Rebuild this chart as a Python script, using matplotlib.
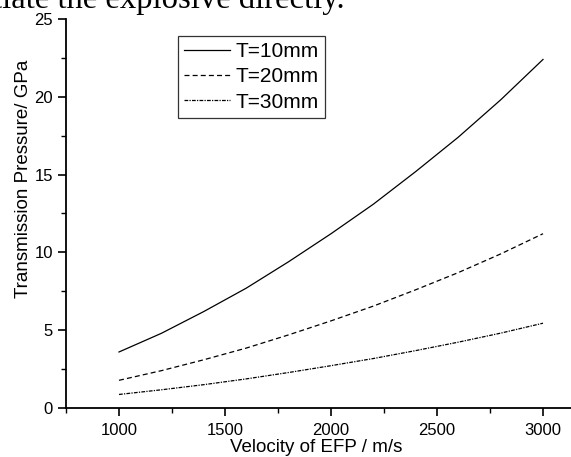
import matplotlib
matplotlib.use("Agg")
import matplotlib.pyplot as plt
from matplotlib.ticker import MultipleLocator

velocity = [1000, 1200, 1400, 1600, 1800, 2000, 2200, 2400, 2600, 2800, 3000]
p_10mm = [3.6, 4.8, 6.2, 7.7, 9.4, 11.2, 13.1, 15.2, 17.4, 19.8, 22.4]
p_20mm = [1.78, 2.4, 3.1, 3.85, 4.7, 5.6, 6.55, 7.6, 8.7, 9.9, 11.2]
p_30mm = [0.87, 1.17, 1.5, 1.87, 2.28, 2.72, 3.18, 3.69, 4.23, 4.81, 5.45]
labels = ["T=10mm", "T=20mm", "T=30mm"]

plt.rcParams['font.family'] = ['Liberation Sans', 'DejaVu Sans']

fig = plt.figure(figsize=(5.71, 4.57), dpi=100)
ax = fig.add_axes([66/571, 1 - 408/457, 530/571, (408 - 19)/457])

ax.plot(velocity, p_10mm, color='black', lw=0.9, ls='-', label=labels[0])
ax.plot(velocity, p_20mm, color='black', lw=0.9, ls=(0, (4, 2.5)), label=labels[1])
ax.plot(velocity, p_30mm, color='black', lw=0.9, ls=(0, (3, 1, 1, 1)), label=labels[2])

ax.set_xlim(750, 3250)
ax.set_ylim(0, 25)
ax.xaxis.set_major_locator(MultipleLocator(500))
ax.xaxis.set_minor_locator(MultipleLocator(250))
ax.yaxis.set_major_locator(MultipleLocator(5))
ax.yaxis.set_minor_locator(MultipleLocator(2.5))
ax.set_xticks([1000, 1500, 2000, 2500, 3000])

for s in ['top', 'right']:
    ax.spines[s].set_visible(False)
for s in ['left', 'bottom']:
    ax.spines[s].set_linewidth(1.3)

ax.tick_params(which='major', direction='out', length=5.5, width=1.2, labelsize=12, pad=4)
ax.tick_params(axis='x', which='major', pad=5)
ax.tick_params(which='minor', direction='out', length=3.5, width=1.0)

ax.set_xlabel("Velocity of EFP / m/s", fontsize=13.5)
ax.set_ylabel("Transmission Pressure/ GPa", fontsize=13.5)
ax.xaxis.set_label_coords((316 - 66) / 530, (408 - 439) / 389)
ax.yaxis.set_label_coords((32 - 66) / 530, 0.59)

leg = ax.legend(loc='upper left', bbox_to_anchor=((178 - 66) / 530, 1 - (36 - 19) / 389),
                fontsize=15, frameon=True, fancybox=False, edgecolor='black',
                handlelength=2.2, handletextpad=0.25, borderpad=0.3, labelspacing=0.3,
                borderaxespad=0)
leg.get_frame().set_linewidth(0.9)

fig.text(-0.012, 1 - 8/457, "tiate the explosive directly.", family=['Liberation Serif', 'DejaVu Serif'],
         fontsize=23.5, va='baseline', ha='left')

fig.savefig("out.png", dpi=100)
